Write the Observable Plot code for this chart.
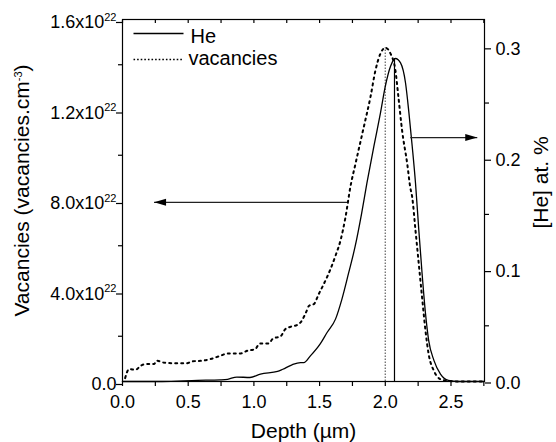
<!DOCTYPE html>
<html><head><meta charset="utf-8">
<script src="https://cdn.jsdelivr.net/npm/d3@7"></script>
<script src="https://cdn.jsdelivr.net/npm/@observablehq/plot@0.6"></script>
<style>html,body{margin:0;padding:0;background:#fff;} #chart{width:556px;height:442px;}</style>
</head><body><div id="chart"></div>
<script>
// Vacancies profile (dotted), depth in µm, value in units of 1e22 vacancies.cm^-3
const vacDepth = [0.02,0.05,0.10,0.14,0.175,0.24,0.26,0.31,0.39,0.49,0.53,0.61,0.67,0.745,0.80,0.90,0.95,1.01,1.045,1.11,1.15,1.20,1.24,1.28,1.33,1.36,1.40,1.42,1.456,1.494,1.532,1.583,1.621,1.659,1.697,1.735,1.773,1.836,1.887,1.925,1.963,2.00,2.04,2.077,2.10,2.128,2.167,2.19,2.205,2.23,2.255,2.28,2.306,2.33,2.37,2.42,2.48,2.55,2.75];
const vacancies = [0.015,0.055,0.052,0.070,0.077,0.077,0.092,0.084,0.081,0.081,0.089,0.092,0.099,0.114,0.124,0.124,0.136,0.143,0.168,0.168,0.192,0.198,0.232,0.242,0.250,0.265,0.310,0.335,0.342,0.387,0.431,0.497,0.556,0.623,0.726,0.862,0.962,1.124,1.257,1.375,1.449,1.475,1.449,1.375,1.257,1.109,0.962,0.858,0.814,0.667,0.519,0.372,0.224,0.121,0.047,0.010,0.003,0.0,0.0];
// He profile (solid), depth in µm, concentration in at.%
const heDepth = [0.0,0.30,0.57,0.745,0.80,0.87,0.97,1.05,1.18,1.22,1.29,1.355,1.38,1.43,1.506,1.557,1.621,1.67,1.72,1.77,1.82,1.86,1.913,1.963,2.00,2.04,2.077,2.116,2.154,2.18,2.205,2.23,2.255,2.28,2.306,2.33,2.37,2.42,2.48,2.55,2.75];
const heConc = [0.0,0.0,0.001,0.0015,0.002,0.004,0.0036,0.0067,0.009,0.011,0.015,0.017,0.017,0.023,0.034,0.044,0.056,0.074,0.097,0.121,0.151,0.178,0.211,0.241,0.265,0.283,0.290,0.286,0.268,0.241,0.211,0.178,0.136,0.097,0.061,0.037,0.019,0.0067,0.001,0.0,0.0];

const seriesNames = ["He", "vacancies"];
const xMajor = [0, 0.5, 1, 1.5, 2, 2.5];
const xMajorLabels = ["0.0", "0.5", "1.0", "1.5", "2.0", "2.5"];
const xMinor = [0.25, 0.75, 1.25, 1.75, 2.25, 2.75];
const yLeftMajor = [0, 0.4, 0.8, 1.2, 1.6];
const yLeftLabels = ["0.0", "4.0x10^22", "8.0x10^22", "1.2x10^22", "1.6x10^22"];
const yLeftMinor = [0.2, 0.6, 1.0, 1.4];
const yRightMajor = [0, 0.1, 0.2, 0.3];
const yRightLabels = ["0.0", "0.1", "0.2", "0.3"];
const yRightMinor = [0.05, 0.15, 0.25];
const xDomain = [0, 2.755];
const yLeftDomain = [0, 1.6];
const yRightDomain = [0, 0.325];
const titles = {x: "Depth (µm)", yLeft: "Vacancies (vacancies.cm^-3)", yRight: "[He] at. %"};
// peak markers and arrows (annotation values)
const vacPeak = [{depth: 2.0, value: 1.475}];
const hePeak = [{depth: 2.07, value: 0.290}];
const arrowLeft = [{from: 1.71, to: 0.24, level: 0.792}];   // left-axis units
const arrowRight = [{from: 2.19, to: 2.70, level: 0.219}];  // right-axis units

const k = yLeftDomain[1] / yRightDomain[1];
const vacData = vacDepth.map((d, i) => ({depth: d, v: vacancies[i]}));
const heData = heDepth.map((d, i) => ({depth: d, h: heConc[i]}));

const headSymbol = {draw(ctx) { ctx.moveTo(0, 0); ctx.lineTo(-12, -3.5); ctx.lineTo(-12, 3.5); ctx.closePath(); }};
const segSymbol = {draw(ctx) { ctx.moveTo(0, 0); ctx.lineTo(50, 0); }};
const FONT = "'Liberation Sans', Arial, Helvetica, sans-serif";
const lab = (vals, labels) => d => labels[vals.findIndex(t => Math.abs(t - d) < 1e-9)];
const labR = d => yRightLabels[yRightMajor.findIndex(t => Math.abs(t * k - d) < 1e-9)];

const chart = Plot.plot({
  width: 556, height: 442,
  marginLeft: 122, marginRight: 72, marginTop: 19, marginBottom: 61,
  style: {fontFamily: FONT, fontSize: "18px", color: "black", background: "white"},
  x: {domain: xDomain, axis: null},
  y: {domain: yLeftDomain, axis: null},
  marks: [
    Plot.ruleX(vacPeak, {x: "depth", y1: 0, y2: "value", stroke: "#777", strokeWidth: 1.4, strokeDasharray: "1.5,1.5"}),
    Plot.ruleX(hePeak, {x: "depth", y1: 0, y2: d => d.value * k, stroke: "black", strokeWidth: 1.2}),
    Plot.line(vacData, {x: "depth", y: "v", stroke: "black", strokeWidth: 2, strokeDasharray: "2,4", curve: "monotone-x"}),
    Plot.line(heData, {x: "depth", y: d => d.h * k, stroke: "black", strokeWidth: 1.3, curve: "monotone-x"}),
    Plot.link(arrowLeft, {x1: "from", x2: "to", y1: "level", y2: "level", stroke: "#222", strokeWidth: 1.2}),
    Plot.dot(arrowLeft, {x: "to", y: "level", symbol: headSymbol, rotate: 180, fill: "black", stroke: null}),
    Plot.link(arrowRight, {x1: "from", x2: "to", y1: d => d.level * k, y2: d => d.level * k, stroke: "#222", strokeWidth: 1.2}),
    Plot.dot(arrowRight, {x: "to", y: d => d.level * k, symbol: headSymbol, rotate: 0, fill: "black", stroke: null}),
    Plot.frame({stroke: "black", strokeWidth: 1.2}),
    // bottom axis
    Plot.axisX(xMajor, {anchor: "bottom", tickSize: 5, tickPadding: 9, tickFormat: lab(xMajor, xMajorLabels), fontSize: 18, label: null, strokeWidth: 1.2}),
    Plot.axisX(xMinor, {anchor: "bottom", tickSize: 5, tickFormat: () => "", label: null, strokeWidth: 1.2}),
    Plot.axisX(xMajor.concat(xMinor), {anchor: "top", tickSize: -3, tickFormat: () => "", label: null, strokeWidth: 1.2}),
    // left axis
    Plot.axisY(yLeftMajor, {anchor: "left", tickSize: 6, tickPadding: 0, dy: 3, tickFormat: lab(yLeftMajor, yLeftLabels), fontSize: 18, label: null, strokeWidth: 1.2}),
    Plot.axisY(yLeftMinor, {anchor: "left", tickSize: 4, tickFormat: () => "", label: null, strokeWidth: 1.2}),
    // right axis (He at.%)
    Plot.axisY(yRightMajor.map(t => t * k), {anchor: "right", tickSize: 6, tickPadding: 5, dy: 1.5, tickFormat: labR, fontSize: 18, label: null, strokeWidth: 1.2}),
    Plot.axisY(yRightMinor.map(t => t * k), {anchor: "right", tickSize: 4, tickFormat: () => "", label: null, strokeWidth: 1.2}),
    // axis titles
    Plot.text([titles.x], {frameAnchor: "bottom", dy: 50, fontSize: 21, textAnchor: "middle", lineAnchor: "middle"}),
    Plot.text([titles.yLeft], {frameAnchor: "left", dx: -100, dy: -10, rotate: -90, fontSize: 21, textAnchor: "middle", lineAnchor: "middle"}),
    Plot.text([titles.yRight], {frameAnchor: "right", dx: 57, dy: -18, rotate: -90, fontSize: 21, textAnchor: "middle", lineAnchor: "middle"}),
    // legend
    Plot.dot([seriesNames[0]], {frameAnchor: "top-left", dx: 11, dy: 14, symbol: segSymbol, stroke: "black", fill: "none", strokeWidth: 1.3}),
    Plot.dot([seriesNames[1]], {frameAnchor: "top-left", dx: 11, dy: 40, symbol: segSymbol, stroke: "black", fill: "none", strokeWidth: 1.6, strokeDasharray: "1.6,2"}),
    Plot.text([seriesNames[0]], {frameAnchor: "top-left", dx: 68, dy: 17, textAnchor: "start", lineAnchor: "middle", fontSize: 20}),
    Plot.text([seriesNames[1]], {frameAnchor: "top-left", dx: 66, dy: 39, textAnchor: "start", lineAnchor: "middle", fontSize: 20})
  ]
});
// render "^exp" as real superscript text
d3.select(chart).selectAll("text").each(function () {
  const t = this.textContent;
  const m = t.match(/^(.*)\^(-?\d+)(.*)$/);
  if (!m) return;
  const sel = d3.select(this);
  const fs = parseFloat(sel.attr("font-size")) || parseFloat(getComputedStyle(this).fontSize) || 18;
  sel.text(null);
  sel.append("tspan").text(m[1]);
  sel.append("tspan").attr("font-size", Math.round(fs * 0.62)).attr("dy", -fs * 0.42).text(m[2]);
  if (m[3]) sel.append("tspan").attr("dy", fs * 0.42).text(m[3]);
});
document.getElementById("chart").appendChild(chart);
</script>
</body></html>
